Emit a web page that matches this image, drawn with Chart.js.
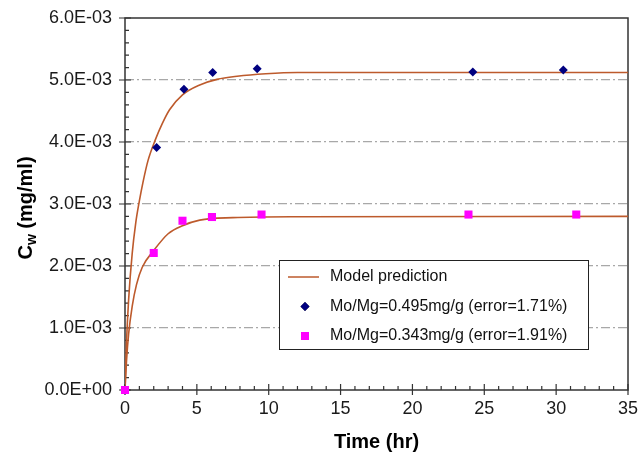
<!DOCTYPE html>
<html><head><meta charset="utf-8">
<script src="https://cdn.jsdelivr.net/npm/chart.js@4/dist/chart.umd.min.js"></script>
<style>html,body{margin:0;padding:0;background:#fff;}#wrap{width:639px;height:454px;}</style>
</head><body><div id="wrap"><canvas id="c" width="639" height="454"></canvas></div>
<script>
const FONT = '"Liberation Sans", Arial, Helvetica, sans-serif';

// ---- data ----
const xTickValues = [0, 5, 10, 15, 20, 25, 30, 35];
const yTickValues = [0, 0.001, 0.002, 0.003, 0.004, 0.005, 0.006];
const yTickLabels = ['0.0E+00', '1.0E-03', '2.0E-03', '3.0E-03', '4.0E-03', '5.0E-03', '6.0E-03'];

const modelLabel = 'Model prediction';
const modelTimeA = [0, 0.1, 0.25, 0.5, 0.75, 1.0, 1.25, 1.6, 2.1, 2.6, 3.1, 4.0, 5.2, 6.4, 7.8, 9.8, 12, 35];
const modelA = [0, 0.75e-3, 1.45e-3, 2.2e-3, 2.7e-3, 3.05e-3, 3.35e-3, 3.7e-3, 4.03e-3, 4.3e-3, 4.52e-3, 4.76e-3, 4.92e-3, 5.01e-3, 5.06e-3, 5.10e-3, 5.12e-3, 5.12e-3];
const modelTimeB = [0, 0.1, 0.25, 0.5, 0.8, 1.2, 2.0, 3.0, 4.0, 5.2, 7.5, 12, 35];
const modelB = [0, 0.45e-3, 0.9e-3, 1.35e-3, 1.7e-3, 1.98e-3, 2.25e-3, 2.52e-3, 2.65e-3, 2.74e-3, 2.78e-3, 2.795e-3, 2.80e-3];

const seriesALabel = 'Mo/Mg=0.495mg/g (error=1.71%)';
const timeA = [0, 2.2, 4.1, 6.1, 9.2, 24.2, 30.5];
const concA = [0, 3.91e-3, 4.85e-3, 5.12e-3, 5.18e-3, 5.13e-3, 5.16e-3];

const seriesBLabel = 'Mo/Mg=0.343mg/g (error=1.91%)';
const timeB = [0, 2.0, 4.0, 6.05, 9.5, 23.9, 31.4];
const concB = [0, 2.21e-3, 2.73e-3, 2.79e-3, 2.83e-3, 2.83e-3, 2.83e-3];

const toXY = (xs, ys) => xs.map((x, i) => ({ x: x, y: ys[i] }));

const LINE_COLOR = '#bd5a2c';
const BLUE = '#000080';
const PINK = '#ff00ff';

const framePlugin = {
  id: 'frame',
  beforeDatasetsDraw(chart) {
    const { ctx, chartArea: a, scales: { x, y } } = chart;
    ctx.save();
    ctx.strokeStyle = '#333';
    ctx.lineWidth = 1.5;
    ctx.strokeRect(a.left, a.top, a.right - a.left, a.bottom - a.top);
    ctx.lineWidth = 1.2;
    ctx.beginPath();
    for (let v = 0; v <= 35; v++) {
      const px = x.getPixelForValue(v);
      const major = v % 5 === 0;
      ctx.moveTo(px, a.bottom + (major ? 5 : 0));
      ctx.lineTo(px, a.bottom - (major ? 6 : 4));
    }
    for (let k = 0; k <= 30; k++) {
      const py = y.getPixelForValue(k * 0.0002);
      const major = k % 5 === 0;
      ctx.moveTo(a.left - (major ? 6 : 0), py);
      ctx.lineTo(a.left + (major ? 6 : 4), py);
    }
    ctx.stroke();
    // y-axis title with subscript
    const cy = (a.top + a.bottom) / 2 + 4;
    ctx.translate(25, cy);
    ctx.rotate(-Math.PI / 2);
    ctx.fillStyle = '#000';
    ctx.textBaseline = 'alphabetic';
    const big = 'bold 20px ' + FONT, small = 'bold 14px ' + FONT;
    ctx.font = big; const wC = ctx.measureText('C').width; const wRest = ctx.measureText(' (mg/ml)').width;
    ctx.font = small; const wW = ctx.measureText('w').width;
    let sx = -(wC + wW + wRest) / 2;
    ctx.font = big; ctx.fillText('C', sx, 7); sx += wC;
    ctx.font = small; ctx.fillText('w', sx, 11); sx += wW;
    ctx.font = big; ctx.fillText(' (mg/ml)', sx, 7);
    ctx.restore();
  },
  afterDatasetsDraw(chart) {
    const { ctx, chartArea: a } = chart;
    const ds = chart.data.datasets;
    const L = a.left + 154, T = a.top + 242, W = 309, H = 89;
    ctx.save();
    ctx.fillStyle = '#fff';
    ctx.fillRect(L, T, W, H);
    ctx.strokeStyle = '#222';
    ctx.lineWidth = 1;
    ctx.strokeRect(L + 0.5, T + 0.5, W, H);
    ctx.font = '16px ' + FONT;
    ctx.textBaseline = 'middle';
    ctx.fillStyle = '#111';
    const items = [ds[2], ds[1], ds[0]];
    items.forEach((d, i) => {
      const yy = T + 17 + i * 29.5;
      if (i === 0) {
        ctx.strokeStyle = LINE_COLOR; ctx.lineWidth = 1.5;
        ctx.beginPath(); ctx.moveTo(L + 9, yy); ctx.lineTo(L + 40, yy); ctx.stroke();
      } else if (i === 1) {
        Chart.helpers.drawPoint(ctx, { pointStyle: 'rectRot', radius: 4.5, borderWidth: 0 }, L + 26, yy);
        ctx.fillStyle = BLUE; ctx.fill();
      } else {
        ctx.fillStyle = PINK; ctx.fillRect(L + 22, yy - 4, 8, 8);
      }
      ctx.fillStyle = '#111';
      ctx.fillText(d.label, L + 51, yy);
    });
    ctx.restore();
  }
};

new Chart(document.getElementById('c'), {
  type: 'scatter',
  data: {
    datasets: [
      { label: seriesBLabel, data: toXY(timeB, concB), pointStyle: 'rect', pointRadius: 5.7, backgroundColor: PINK, borderWidth: 0, order: 0, clip: false },
      { label: seriesALabel, data: toXY(timeA, concA), pointStyle: 'rectRot', pointRadius: 4.5, backgroundColor: BLUE, borderWidth: 0, order: 1, clip: false },
      { label: modelLabel, type: 'line', data: toXY(modelTimeA, modelA), borderColor: LINE_COLOR, borderWidth: 1.6, pointRadius: 0, cubicInterpolationMode: 'monotone', fill: false, order: 2 },
      { label: modelLabel + ' ', type: 'line', data: toXY(modelTimeB, modelB), borderColor: LINE_COLOR, borderWidth: 1.6, pointRadius: 0, cubicInterpolationMode: 'monotone', fill: false, order: 3 }
    ]
  },
  options: {
    responsive: false,
    animation: false,
    devicePixelRatio: 1,
    layout: { padding: { left: 0, right: 11, top: 18, bottom: 0 } },
    plugins: { legend: { display: false }, tooltip: { enabled: false } },
    scales: {
      x: {
        type: 'linear', min: 0, max: 35,
        afterBuildTicks: s => { s.ticks = xTickValues.map(v => ({ value: v })); },
        afterFit: s => { s.height = 64; s.paddingLeft = 0; s.paddingRight = 0; },
        grid: { display: false, drawTicks: false },
        border: { display: false },
        ticks: { padding: 8, color: '#1a1a1a', font: { family: FONT, size: 18 }, maxRotation: 0, callback: (v) => String(v) },
        title: { display: true, text: 'Time (hr)', color: '#000', font: { family: FONT, size: 20, weight: 'bold' }, padding: { top: 6, bottom: 0 } }
      },
      y: {
        type: 'linear', min: 0, max: 0.006,
        afterBuildTicks: s => { s.ticks = yTickValues.map(v => ({ value: v })); },
        afterFit: s => { s.width = 125; s.paddingTop = 0; s.paddingBottom = 0; },
        grid: {
          drawTicks: false,
          color: c => (c.index >= 1 && c.index <= 5) ? '#a8a8a8' : 'rgba(0,0,0,0)',
          lineWidth: 1.2
        },
        border: { display: false, dash: [9, 3, 2, 3] },
        ticks: { padding: 13, color: '#1a1a1a', font: { family: FONT, size: 18 }, callback: (v, i) => yTickLabels[i] }
      }
    }
  },
  plugins: [framePlugin]
});
</script>
</body></html>
